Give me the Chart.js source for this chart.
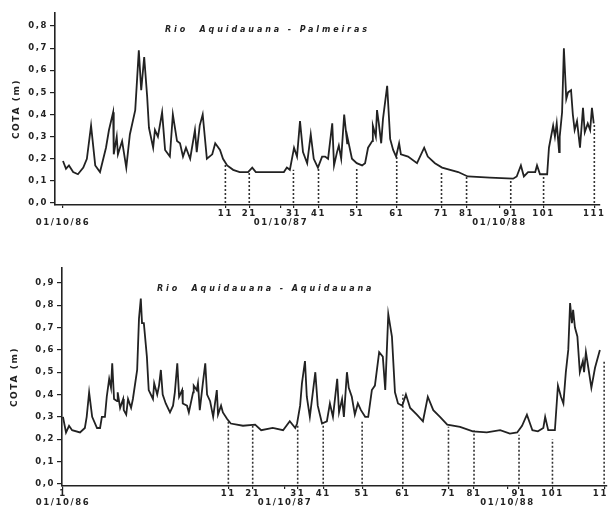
<!DOCTYPE html>
<html><head><meta charset="utf-8">
<script src="https://cdn.jsdelivr.net/npm/chart.js@4"></script>
<style>
html,body{margin:0;padding:0;background:#fff;width:608px;height:509px;overflow:hidden}
#top{position:absolute;left:0;top:0;width:608px;height:250px}
#bot{position:absolute;left:0;top:250px;width:608px;height:259px}
</style></head><body>
<div id="top"><canvas id="c1"></canvas></div>
<div id="bot"><canvas id="c2"></canvas></div>
<script>
// Days counted from 01/10/86
const yearDays = [0, 365, 731];
const yearLabels = ['01/10/86', '01/10/87', '01/10/88'];
const campaignDays = [272, 312, 386, 428, 492, 559, 634, 676, 750, 805, 890];
const campaignLabels = ['11', '21', '31', '41', '51', '61', '71', '81', '91', '101', '111'];

// Rio Aquidauana - Palmeiras
const palmDays = [0,5,10,17,25,34,40,47,54,62,72,77,84,85,90,92,99,106,112,121,127,131,136,141,144,151,154,159,166,171,179,184,191,196,201,206,213,221,224,229,234,241,250,255,263,268,275,285,296,310,317,323,347,370,375,380,387,392,397,402,409,415,420,427,434,439,444,451,454,459,462,466,471,476,477,484,492,501,506,511,518,519,524,526,529,533,536,543,548,553,558,563,566,578,593,605,611,623,635,662,678,715,754,760,767,772,779,791,794,799,811,814,821,824,827,831,832,836,839,843,846,851,854,857,861,866,871,874,879,883,886,889];
const palmCota = [0.19,0.155,0.17,0.14,0.13,0.16,0.2,0.35,0.17,0.14,0.25,0.33,0.41,0.22,0.3,0.22,0.28,0.16,0.31,0.42,0.69,0.51,0.66,0.48,0.34,0.25,0.33,0.30,0.41,0.24,0.21,0.40,0.28,0.27,0.21,0.25,0.20,0.33,0.23,0.35,0.40,0.20,0.22,0.27,0.24,0.20,0.17,0.15,0.14,0.14,0.16,0.14,0.14,0.14,0.16,0.15,0.25,0.21,0.37,0.23,0.18,0.31,0.20,0.16,0.21,0.21,0.20,0.36,0.17,0.23,0.26,0.20,0.40,0.27,0.29,0.20,0.18,0.17,0.18,0.25,0.28,0.35,0.30,0.42,0.36,0.27,0.38,0.53,0.29,0.24,0.21,0.27,0.22,0.21,0.18,0.25,0.21,0.18,0.16,0.14,0.12,0.115,0.11,0.12,0.17,0.12,0.14,0.14,0.17,0.13,0.13,0.25,0.35,0.30,0.36,0.23,0.30,0.41,0.70,0.47,0.50,0.51,0.40,0.33,0.37,0.25,0.43,0.32,0.36,0.33,0.43,0.36];
const palmCampaignCota = [0.18, 0.14, 0.15, 0.16, 0.155, 0.21, 0.145, 0.12, 0.11, 0.13, 0.36];

// Rio Aquidauana - Aquidauana
const aquiDays = [0,5,10,15,28,36,39,43,48,56,61,64,69,72,76,79,81,84,89,90,94,99,100,104,107,112,115,122,125,128,130,133,138,141,148,150,155,158,161,164,169,176,181,184,188,191,196,197,204,207,214,215,220,222,225,230,234,237,242,247,250,253,255,260,263,270,276,296,316,326,345,362,373,382,385,390,393,398,401,406,415,419,426,434,439,444,451,454,459,462,467,470,475,480,485,490,497,502,508,513,520,526,530,535,541,546,551,558,564,571,582,592,600,609,620,632,653,674,697,719,735,747,755,763,772,781,790,793,798,809,814,819,823,827,831,834,837,839,842,846,850,855,857,860,864,869,875,883];
const aquiCota = [0.30,0.23,0.26,0.24,0.23,0.25,0.30,0.41,0.30,0.25,0.25,0.30,0.30,0.39,0.47,0.43,0.54,0.38,0.37,0.41,0.34,0.38,0.33,0.31,0.38,0.34,0.38,0.51,0.74,0.83,0.72,0.72,0.57,0.42,0.38,0.45,0.40,0.44,0.51,0.40,0.36,0.32,0.35,0.41,0.54,0.39,0.42,0.36,0.35,0.32,0.41,0.44,0.42,0.45,0.33,0.45,0.54,0.40,0.37,0.30,0.36,0.42,0.31,0.35,0.32,0.29,0.27,0.26,0.265,0.24,0.25,0.24,0.28,0.25,0.27,0.35,0.45,0.55,0.39,0.30,0.50,0.35,0.27,0.28,0.36,0.30,0.47,0.32,0.38,0.30,0.50,0.43,0.39,0.31,0.36,0.33,0.30,0.30,0.42,0.44,0.59,0.57,0.42,0.76,0.66,0.41,0.36,0.35,0.40,0.34,0.31,0.28,0.39,0.33,0.30,0.265,0.255,0.235,0.23,0.24,0.225,0.23,0.26,0.31,0.24,0.235,0.25,0.30,0.24,0.24,0.44,0.39,0.36,0.50,0.60,0.81,0.72,0.78,0.70,0.66,0.50,0.55,0.50,0.59,0.52,0.43,0.52,0.60];
const aquiCampaignCota = [0.28, 0.265, 0.265, 0.265, 0.28, 0.40, 0.255, 0.24, 0.22, 0.20, 0.55];

const palmYTicks = [0, 0.1, 0.2, 0.3, 0.4, 0.5, 0.6, 0.7, 0.8];
const aquiYTicks = [0, 0.1, 0.2, 0.3, 0.4, 0.5, 0.6, 0.7, 0.8, 0.9];

const INK = '#222';
const FONT = 'DejaVu Sans';

const plotterSpacing = {
  id: 'plotterSpacing',
  beforeUpdate(chart) { chart.ctx.letterSpacing = '1.6px'; },
  beforeLayout(chart) { chart.ctx.letterSpacing = '1.6px'; },
  beforeDraw(chart) { chart.ctx.letterSpacing = '1.6px'; }
};

const stationTitle = {
  id: 'stationTitle',
  afterDraw(chart, args, opts) {
    const ctx = chart.ctx;
    ctx.save();
    ctx.font = 'italic bold 8px "' + FONT + '"';
    ctx.letterSpacing = '2.9px';
    ctx.fillStyle = INK;
    ctx.textBaseline = 'middle';
    ctx.textAlign = 'left';
    ctx.fillText(opts.text, opts.x, opts.y);
    ctx.restore();
  }
};

function buildChart(id, p) {
  const line = p.days.map((d, i) => ({x: d, y: p.cota[i]}));
  const dashes = [];
  campaignDays.forEach((d, i) => { dashes.push({x: d, y: 0}, {x: d, y: p.tops[i]}, {x: d, y: null}); });
  const tickMap = new Map();
  yearDays.forEach((d, i) => tickMap.set(d, [i === 0 ? p.firstLabel : '', yearLabels[i]]));
  campaignDays.forEach((d, i) => tickMap.set(d, [campaignLabels[i]]));
  const xTickValues = [...tickMap.keys()].sort((a, b) => a - b);
  const tickFont = {family: FONT, weight: 'bold', size: 8.5, lineHeight: 1};
  return new Chart(document.getElementById(id), {
    type: 'line',
    data: {datasets: [
      {data: line, borderColor: INK, borderWidth: 1.8, pointRadius: 0, tension: 0},
      {data: dashes, borderColor: '#333', borderWidth: 1.6, borderDash: [2, 2], pointRadius: 0, spanGaps: false}
    ]},
    options: {
      animation: false, responsive: true, maintainAspectRatio: false,
      layout: {padding: {top: p.padTop, right: p.padRight, left: 0, bottom: 0}},
      plugins: {legend: {display: false}, tooltip: {enabled: false},
        stationTitle: {text: p.title, x: p.titleX, y: p.titleY}},
      scales: {
        x: {type: 'linear', min: p.xMin, max: p.xMax,
          afterBuildTicks: s => { s.ticks = xTickValues.map(v => ({value: v})); },
          afterFit: s => { s.height = p.xHeight; s.paddingLeft = 0; s.paddingRight = 0; },
          ticks: {autoSkip: false, maxRotation: 0, minRotation: 0, padding: p.xPad, color: INK, font: tickFont,
            callback: v => tickMap.has(v) ? tickMap.get(v) : ''},
          grid: {drawOnChartArea: false, drawTicks: true, tickLength: 3, color: INK, lineWidth: 1.2},
          border: {display: true, color: INK, width: 1.6}
        },
        y: {min: p.yMin, max: p.yMax,
          afterBuildTicks: s => { s.ticks = p.yTicks.map(v => ({value: v})); },
          afterFit: s => { s.width = p.yWidth; s.paddingTop = 0; s.paddingBottom = 0; },
          ticks: {padding: 2, color: INK, font: {family: FONT, weight: 'bold', size: 8.5},
            callback: v => v.toFixed(1).replace('.', ',')},
          grid: {drawOnChartArea: false, drawTicks: true, tickLength: 5, color: INK, lineWidth: 1.2},
          border: {display: true, color: INK, width: 1.6},
          title: {display: true, text: 'COTA (m)', color: INK,
            font: {family: FONT, weight: 'bold', size: 9}, padding: {top: p.yTitlePad, bottom: 0}}
        }
      }
    },
    plugins: [plotterSpacing, stationTitle]
  });
}

buildChart('c1', {
  days: palmDays, cota: palmCota, tops: palmCampaignCota, yTicks: palmYTicks,
  firstLabel: '', title: 'Rio  Aquidauana - Palmeiras', titleX: 165, titleY: 30,
  xMin: -13.4, xMax: 899.5, yMin: -0.009, yMax: 0.859,
  padTop: 13, padRight: 8, xHeight: 45, yWidth: 55, xPad: 2, yTitlePad: 11.5
});
buildChart('c2', {
  days: aquiDays, cota: aquiCota, tops: aquiCampaignCota, yTicks: aquiYTicks,
  firstLabel: '1', title: 'Rio  Aquidauana - Aquidauana', titleX: 157, titleY: 39,
  xMin: -1.6, xMax: 894.7, yMin: -0.01, yMax: 0.967,
  padTop: 18, padRight: 1, xHeight: 23, yWidth: 62, xPad: 1, yTitlePad: 9.5
});
</script>
</body></html>
